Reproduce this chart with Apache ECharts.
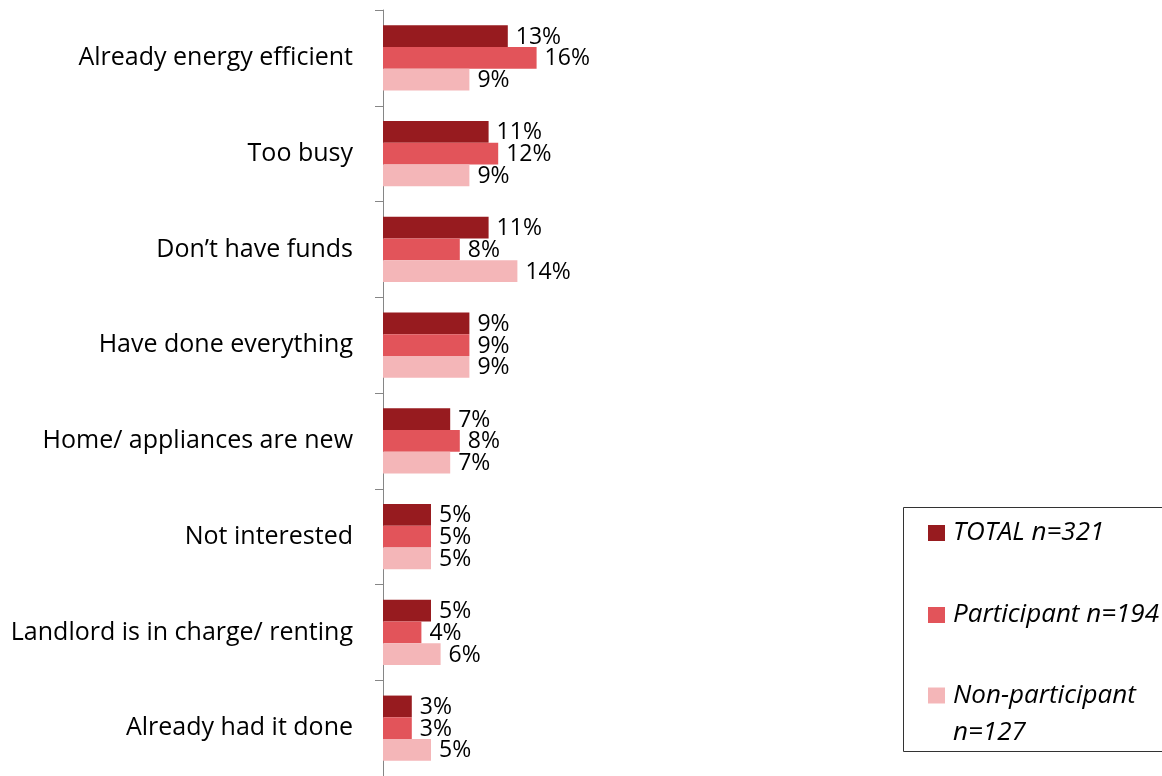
<!DOCTYPE html>
<html>
<head>
    <meta charset="utf-8">
    <title>Reasons for not participating</title>
    <script src="https://cdn.jsdelivr.net/npm/echarts@6/dist/echarts.min.js"></script>
</head>
<body style="margin:0;background:#fff;">
    <div id="main" style="width:1162px;height:776px;"></div>
    <script type="text/javascript">
        var myChart = echarts.init(document.getElementById('main'));

        // categories, top to bottom
        var categories = [
            'Already energy efficient',
            'Too busy',
            'Don\u2019t have funds',
            'Have done everything',
            'Home/ appliances are new',
            'Not interested',
            'Landlord is in charge/ renting',
            'Already had it done'
        ];
        var seriesNames = ['TOTAL n=321', 'Participant n=194', 'Non-participant n=127'];
        var totalValues = [13, 11, 11, 9, 7, 5, 5, 3];
        var participantValues = [16, 12, 8, 9, 8, 5, 4, 3];
        var nonParticipantValues = [9, 9, 14, 9, 7, 5, 6, 5];

        var colors = ['#971b1f', '#e2545a', '#f4b6b8'];
        var FONT = 'Open Sans';

        function barSeries(name, values, color) {
            return {
                name: name,
                type: 'bar',
                data: values,
                barGap: '0%',
                barCategoryGap: '32%',
                itemStyle: { color: color },
                label: {
                    show: true,
                    position: 'right',
                    distance: 8,
                    offset: [0, 1],
                    formatter: '{c}%',
                    color: '#000',
                    fontFamily: FONT,
                    fontSize: 23
                }
            };
        }

        var legendText = {
            fontFamily: FONT, fontSize: 26, fontStyle: 'italic', color: '#000',
            lineHeight: 30, padding: [0, 0, 0, 3]
        };

        var option = {
            animation: false,
            grid: { left: 383, top: 10, width: 192, height: 771 },
            xAxis: {
                type: 'value',
                min: 0,
                max: 20,
                show: false
            },
            yAxis: {
                type: 'category',
                data: categories,
                inverse: true,
                axisLine: { show: true, lineStyle: { color: '#868686', width: 1 } },
                axisTick: { show: true, length: 8, lineStyle: { color: '#868686' } },
                axisLabel: { margin: 30, color: '#000', fontFamily: FONT, fontSize: 25 },
                splitLine: { show: false }
            },
            legend: [
                {
                    data: [seriesNames[0]], orient: 'vertical', left: 928, top: 518, padding: 0,
                    itemWidth: 17, itemHeight: 16, icon: 'rect', textStyle: legendText
                },
                {
                    data: [seriesNames[1]], orient: 'vertical', left: 928, top: 600, padding: 0,
                    itemWidth: 17, itemHeight: 16, icon: 'rect', textStyle: legendText
                },
                {
                    data: [seriesNames[2]], orient: 'vertical', left: 928, top: 640, padding: 0,
                    itemWidth: 17, itemHeight: 16, icon: 'rect',
                    formatter: function () { return '\nNon-participant\nn=127'; },
                    textStyle: {
                        fontFamily: FONT, fontSize: 26, fontStyle: 'italic', color: '#000',
                        lineHeight: 37, padding: [0, 0, 0, 3]
                    }
                }
            ],
            graphic: [{
                type: 'rect',
                shape: { x: 903.5, y: 507.5, width: 280, height: 244 },
                style: { fill: 'none', stroke: '#333', lineWidth: 1 },
                z: -1
            }],
            series: [
                barSeries(seriesNames[0], totalValues, colors[0]),
                barSeries(seriesNames[1], participantValues, colors[1]),
                barSeries(seriesNames[2], nonParticipantValues, colors[2])
            ]
        };

        myChart.setOption(option);
    </script>
</body>
</html>
